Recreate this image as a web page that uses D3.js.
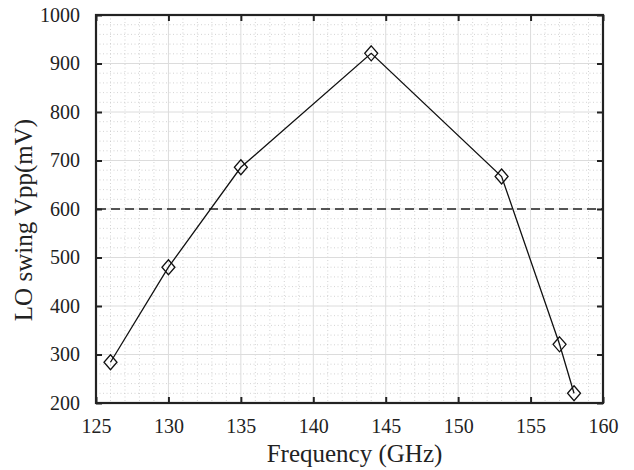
<!DOCTYPE html>
<html><head><meta charset="utf-8">
<script src="https://cdn.jsdelivr.net/npm/d3@7"></script>
<style>
html,body{margin:0;padding:0;background:#fff;}
</style></head>
<body>
<svg id="chart" width="634" height="470"></svg>
<script>
const frequency = [126, 130, 135, 144, 153, 157, 158];
const swing = [284, 480, 686, 921, 667, 321, 220];
const threshold = 600;
const xTicks = [125, 130, 135, 140, 145, 150, 155, 160];
const yTicks = [200, 300, 400, 500, 600, 700, 800, 900, 1000];
const xLabel = "Frequency (GHz)";
const yLabel = "LO swing Vpp(mV)";
const FONT = '"Liberation Serif", "Times New Roman", serif';

const svg = d3.select("#chart");
const m = {left: 96, top: 15, right: 31, bottom: 67};
const W = 634 - m.left - m.right, H = 470 - m.top - m.bottom;
const x = d3.scaleLinear().domain([125, 160]).range([0, W]);
const y = d3.scaleLinear().domain([200, 1000]).range([H, 0]);
const g = svg.append("g").attr("transform", `translate(${m.left},${m.top})`);

// minor grid
const xMinor = d3.range(126, 160, 1).filter(v => v % 5 !== 0);
const yMinor = d3.range(220, 1000, 20).filter(v => v % 100 !== 0);
g.append("g").selectAll("line").data(xMinor).join("line")
  .attr("x1", d => x(d)).attr("x2", d => x(d)).attr("y1", 0).attr("y2", H)
  .attr("stroke", "#c8c8c8").attr("stroke-width", 0.8).attr("stroke-dasharray", "1,2.5");
g.append("g").selectAll("line").data(yMinor).join("line")
  .attr("y1", d => y(d)).attr("y2", d => y(d)).attr("x1", 0).attr("x2", W)
  .attr("stroke", "#c8c8c8").attr("stroke-width", 0.8).attr("stroke-dasharray", "1,2.5");
// major grid
g.append("g").selectAll("line").data(xTicks.slice(1, -1)).join("line")
  .attr("x1", d => x(d)).attr("x2", d => x(d)).attr("y1", 0).attr("y2", H)
  .attr("stroke", "#dcdcdc").attr("stroke-width", 1);
g.append("g").selectAll("line").data(yTicks.slice(1, -1)).join("line")
  .attr("y1", d => y(d)).attr("y2", d => y(d)).attr("x1", 0).attr("x2", W)
  .attr("stroke", "#dcdcdc").attr("stroke-width", 1);

// threshold dashed line
g.append("line").attr("x1", x(125)).attr("x2", x(160))
  .attr("y1", y(threshold)).attr("y2", y(threshold))
  .attr("stroke", "#222").attr("stroke-width", 1.3).attr("stroke-dasharray", "9,5")
  .attr("stroke-dashoffset", -1);

// data line
const pts = frequency.map((f, i) => [f, swing[i]]);
g.append("path").datum(pts)
  .attr("d", d3.line().x(d => x(d[0])).y(d => y(d[1])))
  .attr("fill", "none").attr("stroke", "#111").attr("stroke-width", 1.3);
g.append("g").selectAll("path").data(pts).join("path")
  .attr("transform", d => `translate(${x(d[0])},${y(d[1])})`)
  .attr("d", "M0,-7.5L6.5,0L0,7.5L-6.5,0Z")
  .attr("fill", "none").attr("stroke", "#111").attr("stroke-width", 1.3);

// axes
const axStyle = sel => {
  sel.attr("font-family", null).attr("font-size", null);
  sel.select(".domain").remove();
  sel.selectAll(".tick line").attr("stroke", "#222").attr("stroke-width", 2);
  sel.selectAll(".tick text").attr("fill", "#222")
     .style("font-family", FONT).style("font-size", "20px");
};
g.append("g").attr("transform", `translate(0,${H})`)
  .call(d3.axisBottom(x).tickValues(xTicks).tickSize(-6).tickPadding(16).tickFormat(d3.format("d")))
  .call(axStyle);
g.append("g")
  .call(d3.axisLeft(y).tickValues(yTicks).tickSize(-6).tickPadding(16).tickFormat(d3.format("d")))
  .call(axStyle);
g.append("g")
  .call(d3.axisTop(x).tickValues(xTicks).tickSize(-6).tickFormat(""))
  .call(axStyle);
g.append("g").attr("transform", `translate(${W},0)`)
  .call(d3.axisRight(y).tickValues(yTicks).tickSize(-6).tickFormat(""))
  .call(axStyle);
g.append("rect").attr("x", 0).attr("y", 0).attr("width", W).attr("height", H)
  .attr("fill", "none").attr("stroke", "#222").attr("stroke-width", 2.2);

// labels
svg.append("text").attr("x", m.left + W / 2 + 5).attr("y", 462)
  .attr("text-anchor", "middle").style("font-family", FONT).style("font-size", "25px")
  .attr("fill", "#222").text(xLabel);
svg.append("text").attr("transform", `translate(32,220) rotate(-90)`)
  .attr("text-anchor", "middle").style("font-family", FONT).style("font-size", "25px")
  .attr("fill", "#222").text(yLabel);
</script>
</body></html>
